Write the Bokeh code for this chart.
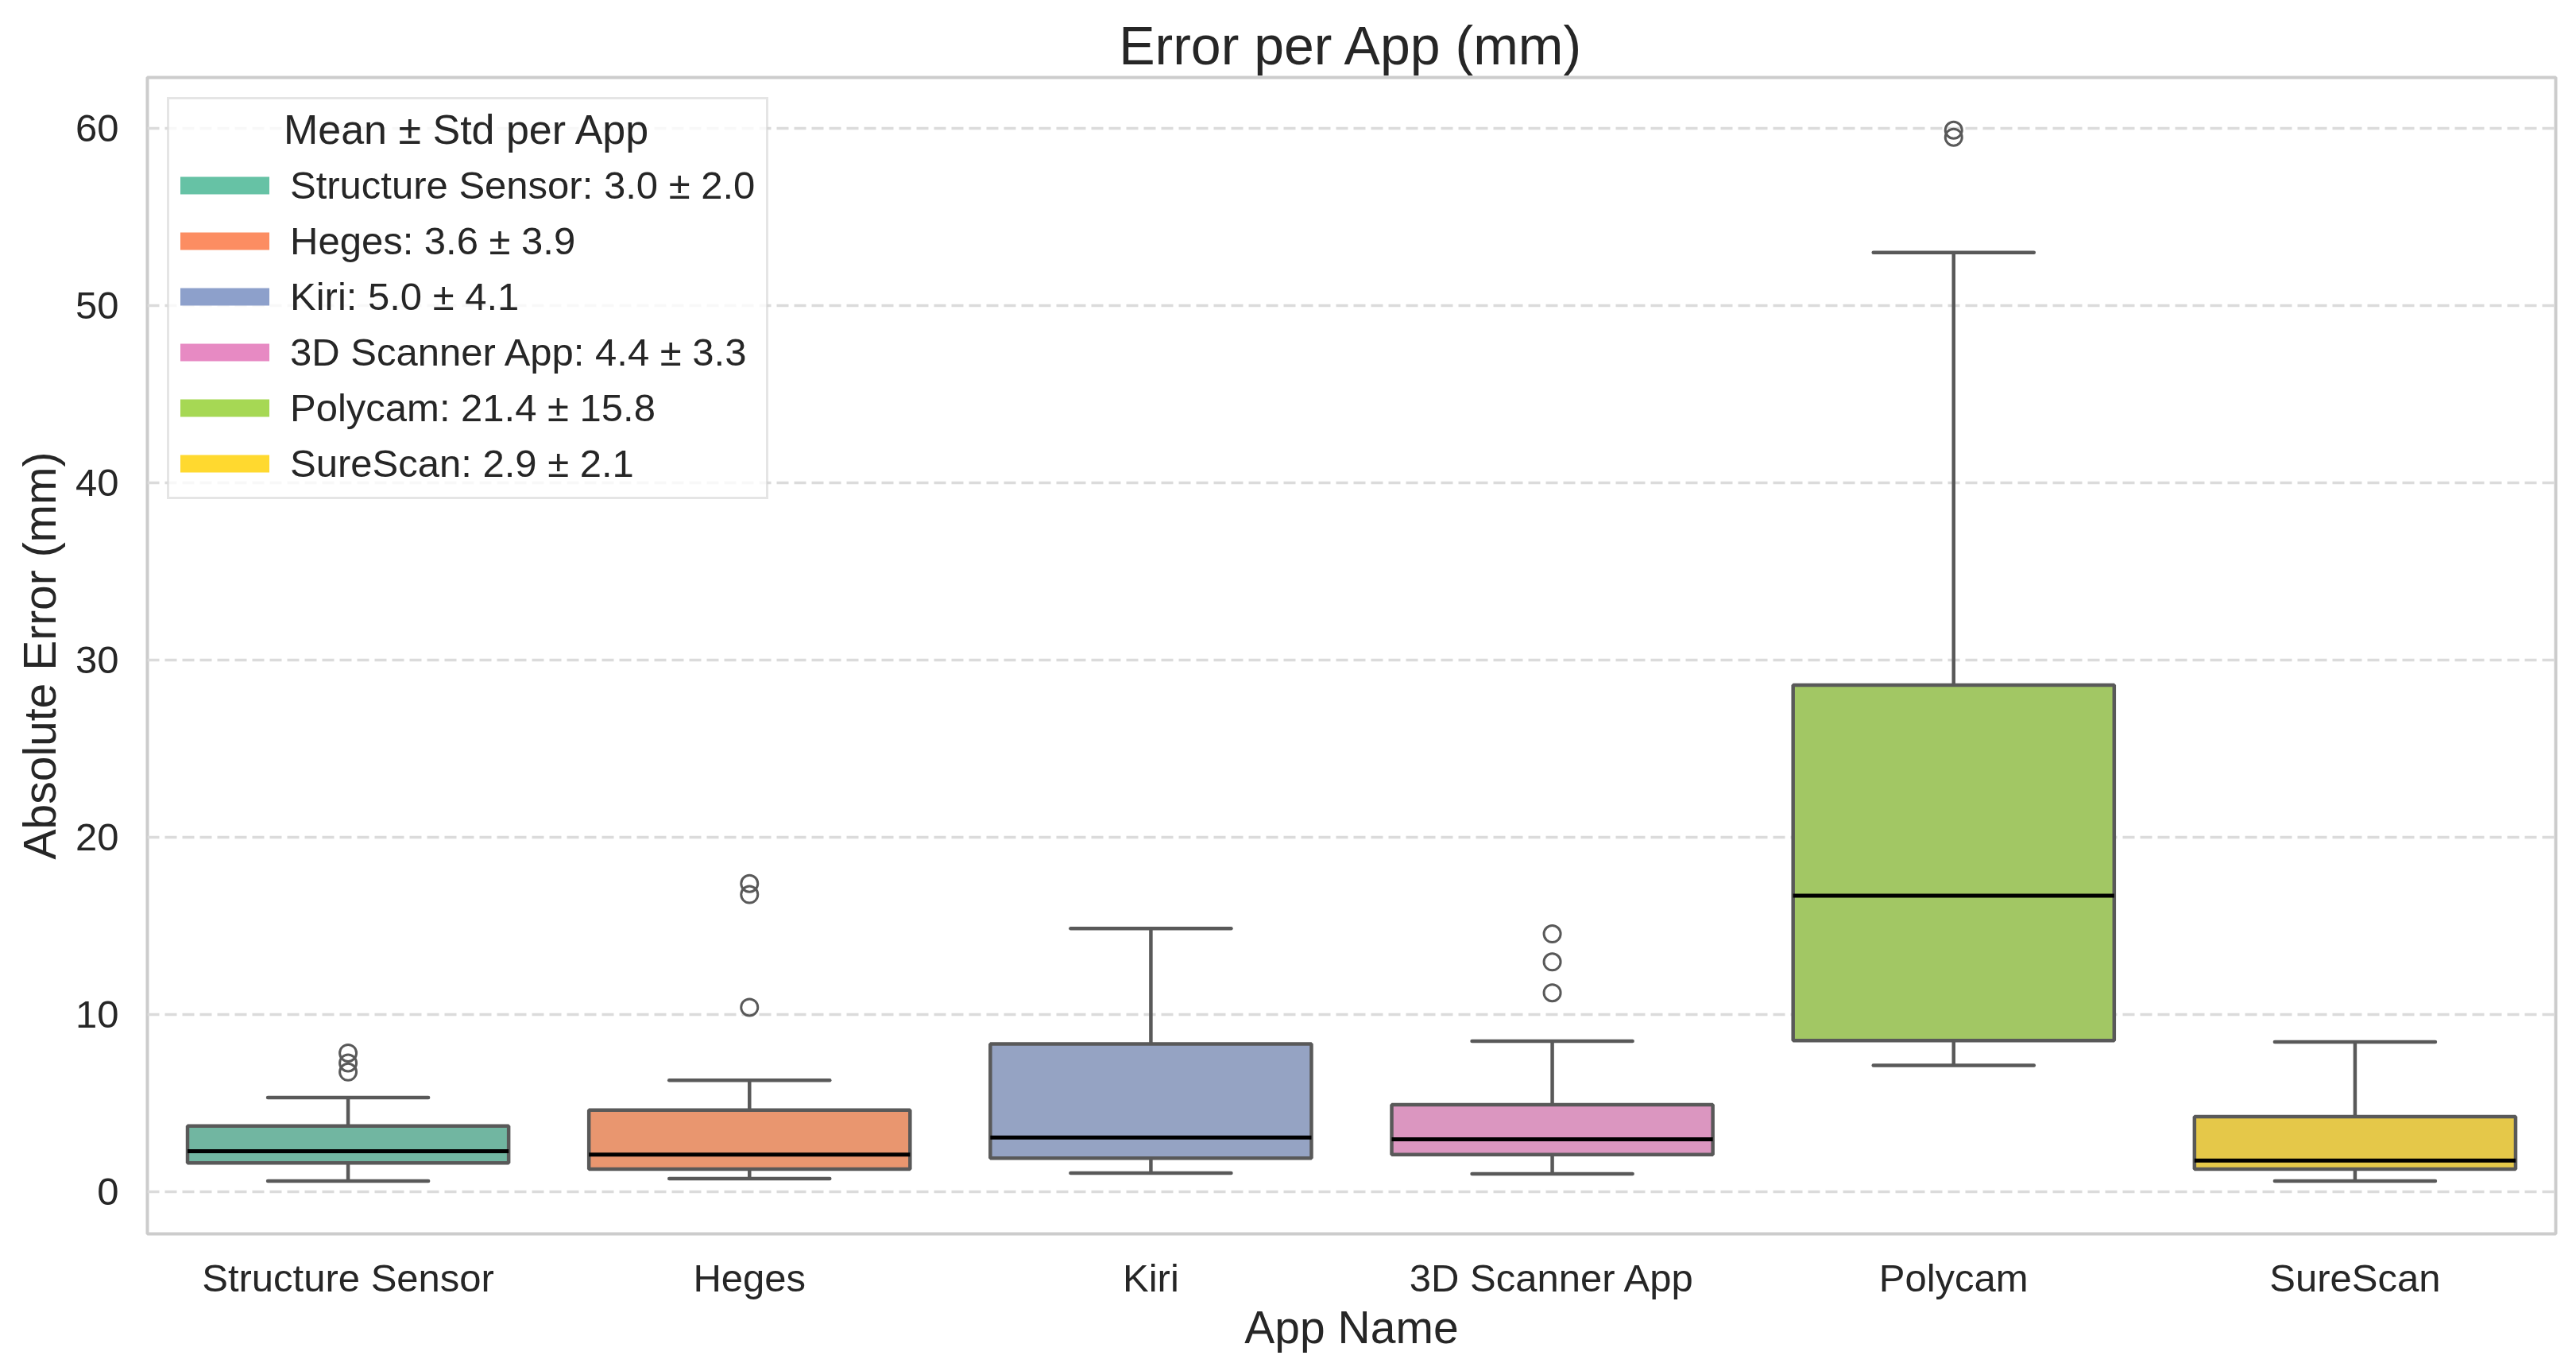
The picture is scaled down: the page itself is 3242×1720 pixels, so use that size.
from bokeh.plotting import figure
from bokeh.models import Range1d, FixedTicker, Legend, LegendItem, Label, BoxAnnotation
from bokeh.embed import file_html
from bokeh.resources import INLINE

# ---------------- data ----------------
apps = ["Structure Sensor", "Heges", "Kiri", "3D Scanner App", "Polycam", "SureScan"]
lower_whisker = [0.62, 0.76, 1.07, 1.03, 7.14, 0.62]
q1 = [1.64, 1.29, 1.91, 2.11, 8.55, 1.29]
median = [2.30, 2.11, 3.08, 2.97, 16.72, 1.78]
q3 = [3.73, 4.62, 8.35, 4.92, 28.6, 4.25]
upper_whisker = [5.33, 6.30, 14.87, 8.51, 53.0, 8.47]
outliers = [
    [6.77, 7.28, 7.84],
    [10.42, 16.78, 17.4],
    [],
    [11.24, 12.98, 14.56],
    [59.5, 59.9],
    [],
]
means = [3.0, 3.6, 5.0, 4.4, 21.4, 2.9]
stds = [2.0, 3.9, 4.1, 3.3, 15.8, 2.1]
y_ticks = [0, 10, 20, 30, 40, 50, 60]

box_colors = ["#71b6a1", "#e9966f", "#95a3c3", "#db96c0", "#a2c764", "#e5c849"]
legend_colors = ["#66c2a5", "#fc8d62", "#8da0cb", "#e78ac3", "#a6d854", "#ffd92f"]

# ---------------- layout constants ----------------
FONT = "Liberation Sans"
TXT = "#262626"
LC = "#595959"
W, H = 3226, 1704
FW, FH = 3031, 1460
ML, MT = 185, 97
MR, MB = W - ML - FW, H - MT - FH
Y0, Y1 = -2.36, 62.87

xs = list(range(len(apps)))

p = figure(width=W, height=H, x_range=Range1d(-0.5, len(apps) - 0.5),
           y_range=Range1d(Y0, Y1), output_backend="svg", toolbar_location=None,
           min_border_left=ML, min_border_right=MR, min_border_top=MT,
           min_border_bottom=MB)
p.background_fill_color = "white"
p.border_fill_color = "white"
p.outline_line_color = "#cccccc"
p.outline_line_width = 4

p.title.text = "Error per App (mm)"
p.title.align = "center"
p.title.text_font = FONT
p.title.text_font_size = "68px"
p.title.text_font_style = "normal"
p.title.text_color = TXT
p.title.standoff = 6

# axes
p.xaxis.ticker = FixedTicker(ticks=xs)
p.xaxis.major_label_overrides = {i: a for i, a in enumerate(apps)}
p.yaxis.ticker = FixedTicker(ticks=y_ticks)
for ax in (p.xaxis, p.yaxis):
    ax.axis_line_color = None
    ax.major_tick_line_color = None
    ax.minor_tick_line_color = None
    ax.major_label_text_font = FONT
    ax.major_label_text_font_size = "49px"
    ax.major_label_text_color = TXT
    ax.axis_label_text_font = FONT
    ax.axis_label_text_font_size = "57px"
    ax.axis_label_text_font_style = "normal"
    ax.axis_label_text_color = TXT
p.xaxis.axis_label = "App Name"
p.yaxis.axis_label = "Absolute Error (mm)"
p.xaxis.major_label_standoff = 22
p.xaxis.axis_label_standoff = 0
p.yaxis.major_label_standoff = 30
p.yaxis.axis_label_standoff = 10

p.xgrid.visible = False
p.ygrid.grid_line_color = "#dbdbdb"
p.ygrid.grid_line_width = 3.5
p.ygrid.grid_line_dash = "15 7"

# whiskers
p.segment(x0=xs, x1=xs, y0=q3, y1=upper_whisker, line_color=LC, line_width=4.5)
p.segment(x0=xs, x1=xs, y0=q1, y1=lower_whisker, line_color=LC, line_width=4.5)
cap_l = [x - 0.2 for x in xs]
cap_r = [x + 0.2 for x in xs]
p.segment(x0=cap_l, x1=cap_r, y0=upper_whisker, y1=upper_whisker, line_color=LC,
          line_width=4.5, line_cap="round")
p.segment(x0=cap_l, x1=cap_r, y0=lower_whisker, y1=lower_whisker, line_color=LC,
          line_width=4.5, line_cap="round")

# boxes
p.vbar(x=xs, width=0.8, bottom=q1, top=q3, fill_color=box_colors,
       line_color=LC, line_width=4.5)
p.segment(x0=[x - 0.4 for x in xs], x1=[x + 0.4 for x in xs], y0=median, y1=median,
          line_color="black", line_width=5)

# outliers
fx, fy = [], []
for i, vals in enumerate(outliers):
    for v in vals:
        fx.append(xs[i])
        fy.append(v)
p.scatter(x=fx, y=fy, marker="circle", size=21, fill_color=None, line_color=LC,
          line_width=3)

# ---------------- legend ----------------
px_per_x = FW / len(apps)
px_per_y = FH / (Y1 - Y0)


def dx(px):  # canvas x pixel -> data x
    return -0.5 + (px - ML) / px_per_x


def dy(py):  # canvas y pixel -> data y
    return Y1 - (py - MT) / px_per_y


LEG_MARGIN, LEG_PAD, LEG_W, LEG_H = 25, 14, 755, 506
leg_left, leg_top = ML + LEG_MARGIN, MT + LEG_MARGIN

# semi-transparent legend background (behind the title text)
p.add_layout(BoxAnnotation(left=dx(leg_left), right=dx(leg_left + LEG_W),
                           top=dy(leg_top), bottom=dy(leg_top + LEG_H),
                           fill_color="white", fill_alpha=0.8, line_color=None))

# legend title, centred over the legend box
p.add_layout(Label(x=dx(leg_left + LEG_W / 2), y=dy(163),
                   text="Mean ± Std per App", text_align="center",
                   text_baseline="alphabetic", text_font=FONT,
                   text_font_size="52px", text_color=TXT))

nan = float("nan")
items = []
for a, m, s, c in zip(apps, means, stds, legend_colors):
    r = p.line(x=[nan], y=[nan], line_color=c, line_width=22, line_cap="round")
    items.append(LegendItem(label=f"{a}: {m:.1f} ± {s:.1f}", renderers=[r]))

legend = Legend(items=items, location="top_left", margin=LEG_MARGIN,
                title=" ", title_text_font=FONT, title_text_font_size="52px",
                title_standoff=6,
                label_text_font=FONT, label_text_font_size="49px",
                label_text_color=TXT,
                glyph_width=112, glyph_height=54, label_height=54, spacing=14,
                padding=LEG_PAD, label_standoff=26,
                border_line_color="#cccccc", border_line_width=3,
                background_fill_alpha=0.0)
p.add_layout(legend)

open("out.html", "w").write(file_html(p, INLINE))
